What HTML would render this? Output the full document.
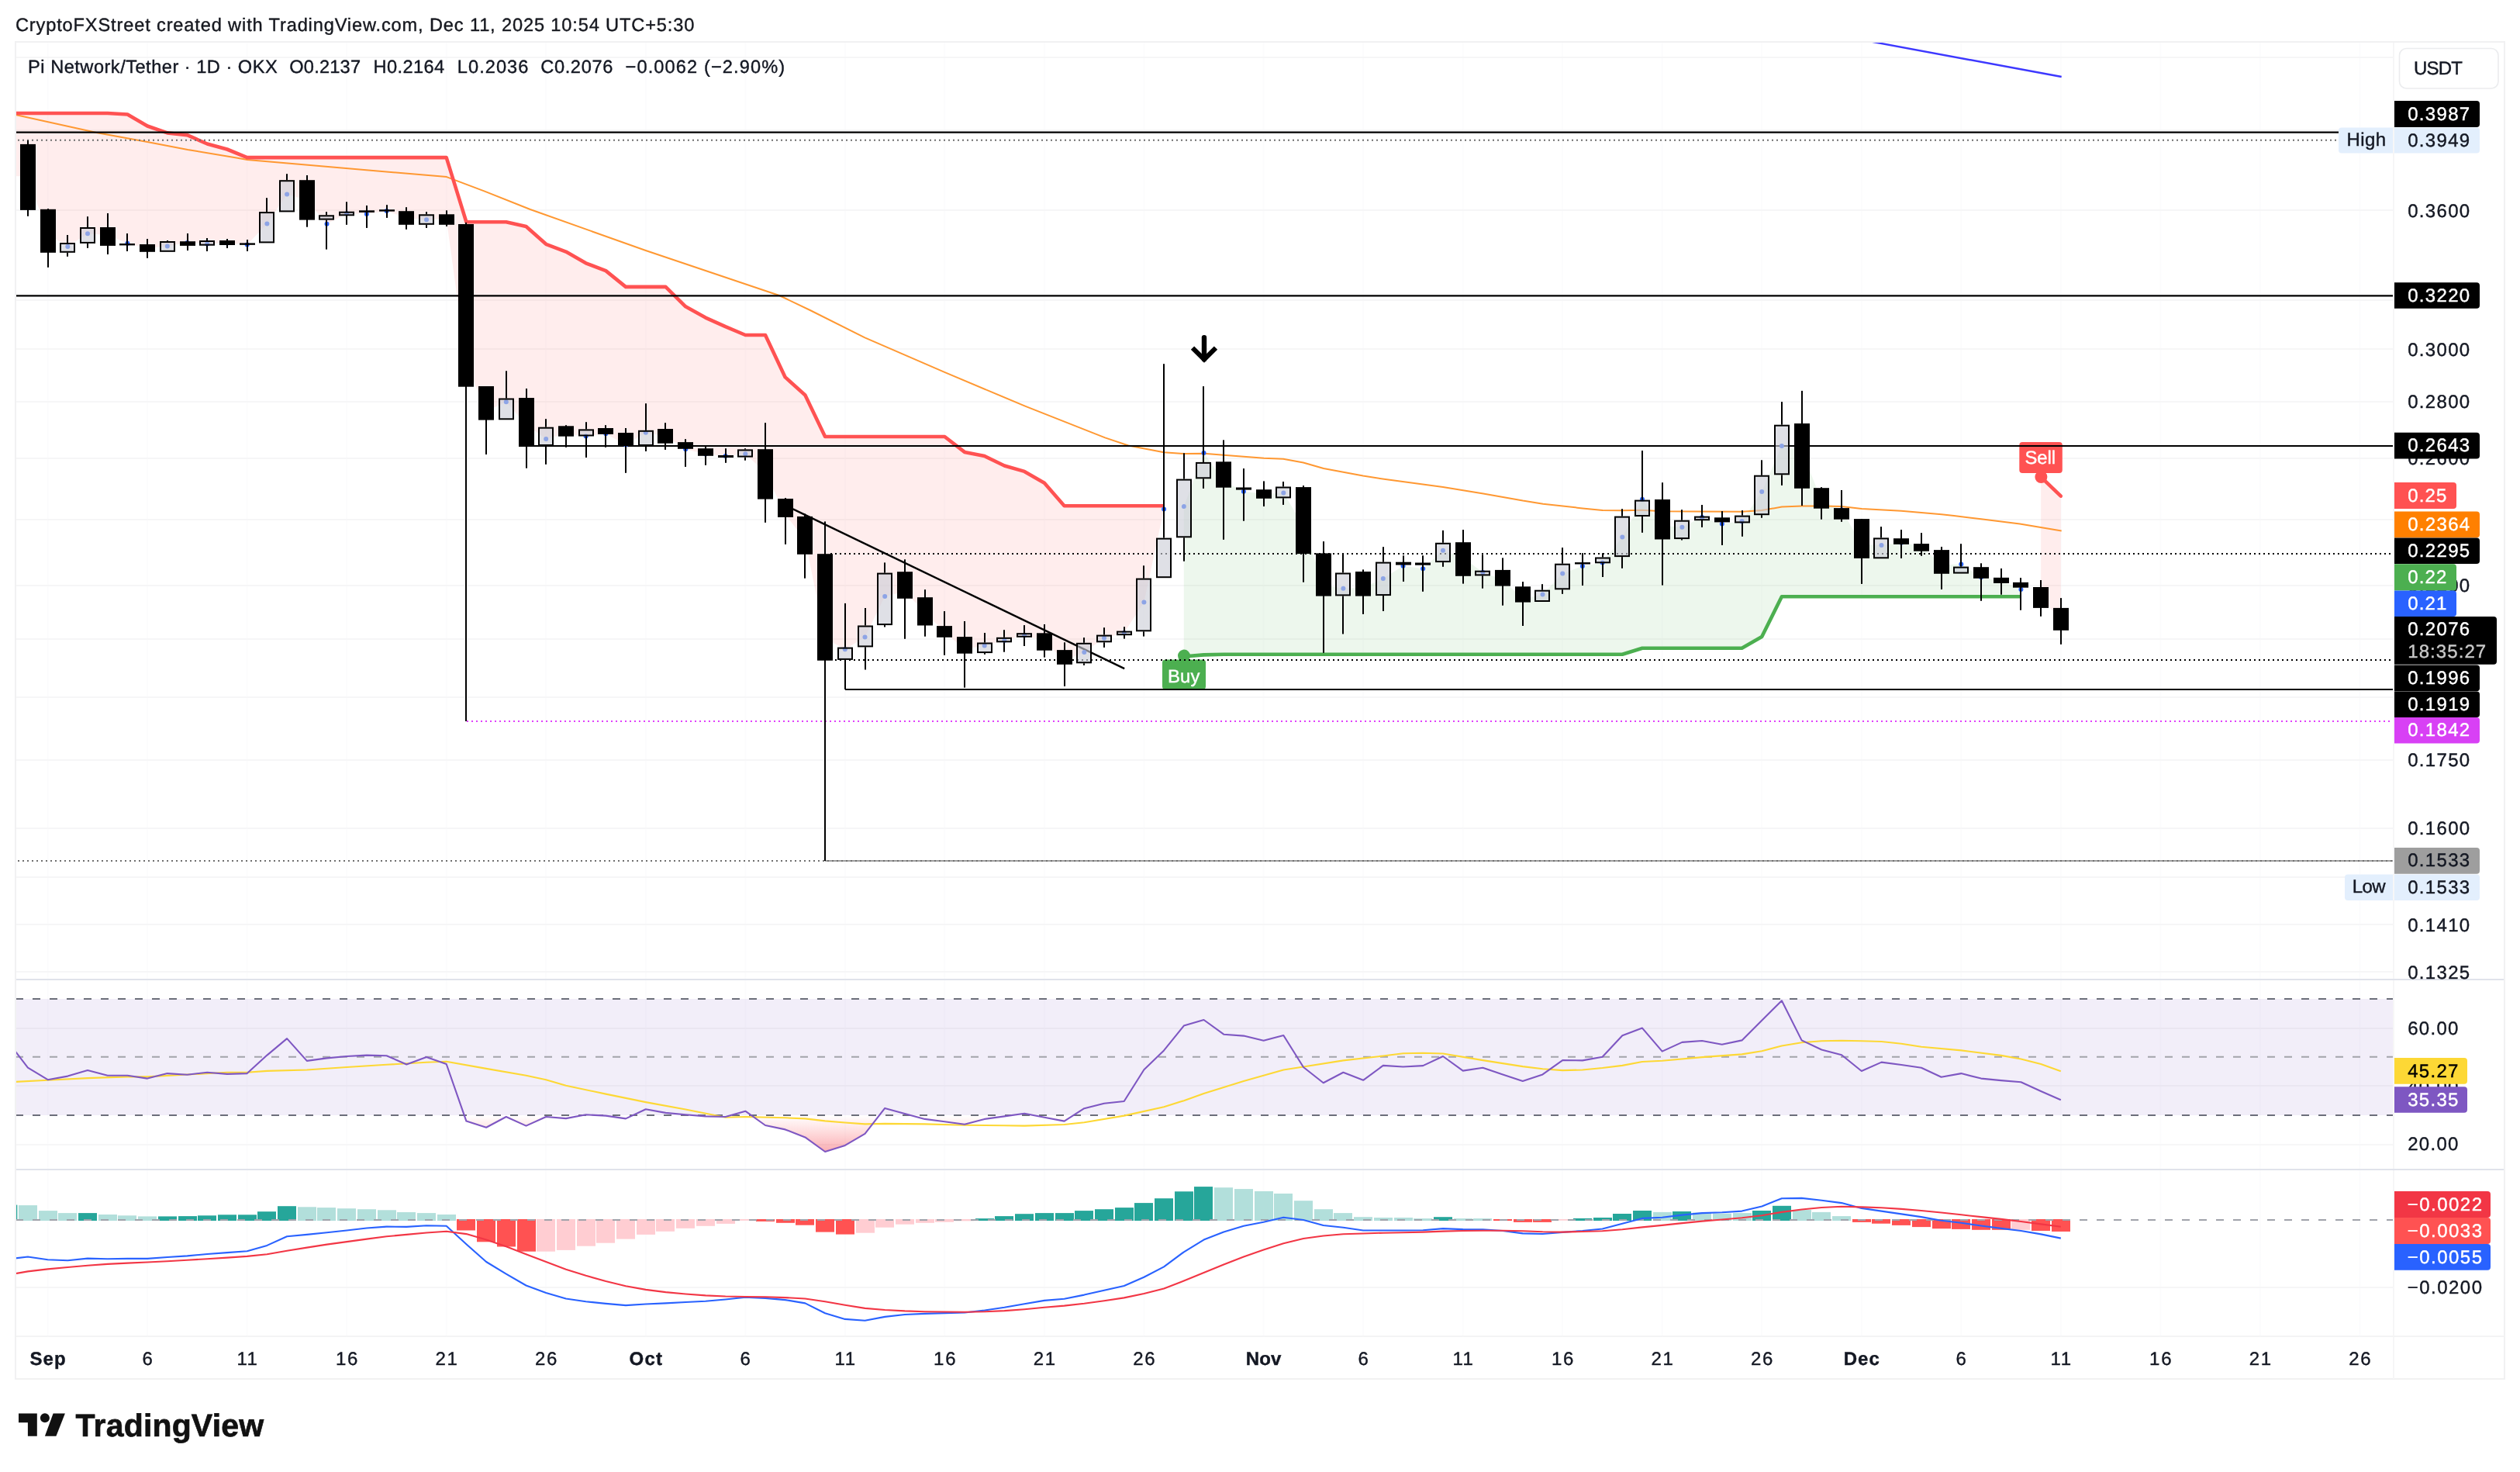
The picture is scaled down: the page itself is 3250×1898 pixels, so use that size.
<!DOCTYPE html>
<html lang="en"><head><meta charset="utf-8"><title>PI/USDT chart</title>
<style>html,body{margin:0;padding:0;background:#fff;}body{width:3250px;height:1898px;overflow:hidden;font-family:"Liberation Sans", sans-serif;}svg text{white-space:pre;}</style></head>
<body>
<svg width="3250" height="1898" viewBox="0 0 3250 1898" font-family='"Liberation Sans", sans-serif' text-rendering="geometricPrecision" style="display:block">
<rect width="3250" height="1898" fill="#fff"/>
<filter id="nf" color-interpolation-filters="sRGB" x="0" y="0" width="100%" height="100%" filterUnits="userSpaceOnUse"><feOffset dx="0" dy="0"/></filter>
<defs>
<clipPath id="cm"><rect x="20" y="55" width="3067" height="1208"/></clipPath>
<clipPath id="cr"><rect x="20" y="1263" width="3067" height="245"/></clipPath>
<clipPath id="cd"><rect x="20" y="1508" width="3067" height="215"/></clipPath>
<linearGradient id="gos" x1="0" y1="1438" x2="0" y2="1486" gradientUnits="userSpaceOnUse"><stop offset="0" stop-color="#ff5252" stop-opacity="0"/><stop offset="1" stop-color="#f23645" stop-opacity="0.42"/></linearGradient>
</defs>
<rect x="60.6" y="54" width="2" height="1669" fill="#fcfcfd"/>
<rect x="189.1" y="54" width="2" height="1669" fill="#fcfcfd"/>
<rect x="317.7" y="54" width="2" height="1669" fill="#fcfcfd"/>
<rect x="446.2" y="54" width="2" height="1669" fill="#fcfcfd"/>
<rect x="574.7" y="54" width="2" height="1669" fill="#fcfcfd"/>
<rect x="703.2" y="54" width="2" height="1669" fill="#fcfcfd"/>
<rect x="831.8" y="54" width="2" height="1669" fill="#fcfcfd"/>
<rect x="960.3" y="54" width="2" height="1669" fill="#fcfcfd"/>
<rect x="1088.8" y="54" width="2" height="1669" fill="#fcfcfd"/>
<rect x="1217.3" y="54" width="2" height="1669" fill="#fcfcfd"/>
<rect x="1345.9" y="54" width="2" height="1669" fill="#fcfcfd"/>
<rect x="1474.4" y="54" width="2" height="1669" fill="#fcfcfd"/>
<rect x="1628.6" y="54" width="2" height="1669" fill="#fcfcfd"/>
<rect x="1757.1" y="54" width="2" height="1669" fill="#fcfcfd"/>
<rect x="1885.7" y="54" width="2" height="1669" fill="#fcfcfd"/>
<rect x="2014.2" y="54" width="2" height="1669" fill="#fcfcfd"/>
<rect x="2142.7" y="54" width="2" height="1669" fill="#fcfcfd"/>
<rect x="2271.2" y="54" width="2" height="1669" fill="#fcfcfd"/>
<rect x="2399.8" y="54" width="2" height="1669" fill="#fcfcfd"/>
<rect x="2528.3" y="54" width="2" height="1669" fill="#fcfcfd"/>
<rect x="2656.8" y="54" width="2" height="1669" fill="#fcfcfd"/>
<rect x="2785.3" y="54" width="2" height="1669" fill="#fcfcfd"/>
<rect x="2913.9" y="54" width="2" height="1669" fill="#fcfcfd"/>
<rect x="3042.4" y="54" width="2" height="1669" fill="#fcfcfd"/>
<rect x="20" y="73" width="3067" height="2" fill="#f6f6f7"/>
<rect x="20" y="167" width="3067" height="2" fill="#f6f6f7"/>
<rect x="20" y="270" width="3067" height="2" fill="#f6f6f7"/>
<rect x="20" y="386" width="3067" height="2" fill="#f6f6f7"/>
<rect x="20" y="449" width="3067" height="2" fill="#f6f6f7"/>
<rect x="20" y="517" width="3067" height="2" fill="#f6f6f7"/>
<rect x="20" y="590" width="3067" height="2" fill="#f6f6f7"/>
<rect x="20" y="669" width="3067" height="2" fill="#f6f6f7"/>
<rect x="20" y="754" width="3067" height="2" fill="#f6f6f7"/>
<rect x="20" y="823" width="3067" height="2" fill="#f6f6f7"/>
<rect x="20" y="898" width="3067" height="2" fill="#f6f6f7"/>
<rect x="20" y="979" width="3067" height="2" fill="#f6f6f7"/>
<rect x="20" y="1067" width="3067" height="2" fill="#f6f6f7"/>
<rect x="20" y="1130" width="3067" height="2" fill="#f6f6f7"/>
<rect x="20" y="1191" width="3067" height="2" fill="#f6f6f7"/>
<rect x="20" y="1252" width="3067" height="2" fill="#f6f6f7"/>
<rect x="20" y="1325" width="3067" height="2" fill="#f6f6f7"/>
<rect x="20" y="1399" width="3067" height="2" fill="#f6f6f7"/>
<rect x="20" y="1475" width="3067" height="2" fill="#f6f6f7"/>
<rect x="20" y="1659" width="3067" height="2" fill="#f6f6f7"/>
<g clip-path="url(#cm)">
<polygon points="20,146 35.9,146 61.6,146 87.3,146 113,146 138.7,146 164.4,147.5 190.1,162.5 215.8,171.4 241.5,174.2 267.2,185.5 292.9,192.5 318.7,203.1 344.4,203.1 370.1,203.1 395.8,203.1 421.5,203.1 447.2,203.1 472.9,203.1 498.6,203.1 524.3,203.1 550,203.1 575.7,203.1 601.4,286.2 627.1,286.2 652.8,286.2 678.5,292 704.2,314.8 729.9,324.6 755.6,339.3 781.3,349.1 807,369.9 832.8,369.9 858.5,369.9 884.2,395.3 909.9,409.6 935.6,421.2 961.3,432 987,432 1012.7,486.4 1038.4,509.5 1064.1,563 1089.8,563 1115.5,563 1141.2,563 1166.9,563 1192.6,563 1218.3,563 1244,582.9 1269.7,588 1295.4,600.5 1321.2,607.9 1346.9,622.8 1372.6,652.2 1398.3,652.2 1424,652.2 1449.7,652.2 1475.4,652.2 1501.1,652.2 1501.1,656.4 1475.4,776.6 1449.7,816.1 1424,822.7 1398.3,840.9 1372.6,851.8 1346.9,826.8 1321.2,819.2 1295.4,825.7 1269.7,832.5 1244,837.3 1218.3,815.2 1192.6,789.1 1166.9,762.7 1141.2,768.9 1115.5,821.6 1089.8,837.3 1064.1,822.9 1038.4,696.6 1012.7,663.2 987,609.1 961.3,585.2 935.6,588 909.9,585.4 884.2,579.2 858.5,562.4 832.8,557.7 807,573.4 781.3,559.2 755.6,562.4 729.9,559.2 704.2,565.9 678.5,547.4 652.8,518.3 627.1,530.2 601.4,468.9 575.7,282.3 550,283.2 524.3,281.2 498.6,271.9 472.9,276 447.2,275.2 421.5,288.7 395.8,258.2 370.1,250.5 344.4,288.4 318.7,315.5 292.9,313.5 267.2,314.4 241.5,313 215.8,317.6 190.1,320.1 164.4,313.7 138.7,303 113,301.3 87.3,318.1 61.6,301.8 35.9,228.1 20,227.1" fill="#ff5252" fill-opacity="0.1"/>
<polygon points="1526.8,653.1 1552.5,583.9 1578.2,620.6 1603.9,633.7 1629.6,636.8 1655.3,635.4 1681,678.3 1706.7,753.9 1732.4,758.7 1758.1,757.7 1783.8,745.9 1809.5,729.8 1835.2,733.2 1861,709.7 1886.7,719 1912.4,737.9 1938.1,747.4 1963.8,772.3 1989.5,766.4 2015.2,739.4 2040.9,730 2066.6,725.4 2092.3,692.6 2118,643.8 2143.7,677.8 2169.4,679.7 2195.1,666.9 2220.8,675.6 2246.5,672.1 2272.2,633.9 2297.9,575 2323.6,581.1 2349.3,645.5 2375.1,657.3 2400.8,702.1 2426.5,703.1 2452.2,699.7 2477.9,703.9 2503.6,728.2 2529.3,727.6 2555,744.3 2580.7,749 2606.4,759.9 2606.4,769.2 2580.7,769.2 2555,769.2 2529.3,769.2 2503.6,769.2 2477.9,769.2 2452.2,769.2 2426.5,769.2 2400.8,769.2 2375.1,769.2 2349.3,769.2 2323.6,769.2 2297.9,769.2 2272.2,821.1 2246.5,835.7 2220.8,835.7 2195.1,835.7 2169.4,835.7 2143.7,835.7 2118,835.7 2092.3,843.8 2066.6,843.8 2040.9,843.8 2015.2,843.8 1989.5,843.8 1963.8,843.8 1938.1,843.8 1912.4,843.8 1886.7,843.8 1861,843.8 1835.2,843.8 1809.5,843.8 1783.8,843.8 1758.1,843.8 1732.4,843.8 1706.7,843.8 1681,843.8 1655.3,843.8 1629.6,843.8 1603.9,843.8 1578.2,843.8 1552.5,844.4 1526.8,846.5" fill="#4caf50" fill-opacity="0.1"/>
<polygon points="2632.1,615 2657.8,639.6 2657.8,799.4 2632.1,770.7" fill="#ff5252" fill-opacity="0.1"/>
<line x1="2410" y1="53" x2="2658.7" y2="99" stroke="#3d38ff" stroke-width="2.4"/>
<polyline points="20,148 124.4,171 190,183 242,193 305,203.6 318.9,206 576,228.1 625,246.6 683.8,270 832.8,323 1005,381 1044.8,400 1115.4,435.3 1218.7,480.2 1322,523.6 1425.2,564.4 1455.3,574.5 1501,583.3 1527.7,585.1 1552.9,584.7 1578,586.7 1630,590.8 1655,591.8 1680.9,596.5 1707,604 1757.9,613.6 1785,617.7 1861,627.9 1913,636.4 1963.9,645.6 1990,649.7 2041,655.4 2066.8,658 2092.1,658.2 2118,657.8 2144,659.2 2185,659.6 2247,659.8 2272,658.1 2298,653.6 2324,652.6 2350,652.6 2375,653 2401,656.1 2452,658.7 2504,663.2 2520,665 2555,669.3 2605,675.4 2658.7,684.6" fill="none" stroke="#ff9832" stroke-width="2" stroke-linejoin="round"/>
<polyline points="20,146 35.9,146 61.6,146 87.3,146 113,146 138.7,146 164.4,147.5 190.1,162.5 215.8,171.4 241.5,174.2 267.2,185.5 292.9,192.5 318.7,203.1 344.4,203.1 370.1,203.1 395.8,203.1 421.5,203.1 447.2,203.1 472.9,203.1 498.6,203.1 524.3,203.1 550,203.1 575.7,203.1 601.4,286.2 627.1,286.2 652.8,286.2 678.5,292 704.2,314.8 729.9,324.6 755.6,339.3 781.3,349.1 807,369.9 832.8,369.9 858.5,369.9 884.2,395.3 909.9,409.6 935.6,421.2 961.3,432 987,432 1012.7,486.4 1038.4,509.5 1064.1,563 1089.8,563 1115.5,563 1141.2,563 1166.9,563 1192.6,563 1218.3,563 1244,582.9 1269.7,588 1295.4,600.5 1321.2,607.9 1346.9,622.8 1372.6,652.2 1398.3,652.2 1424,652.2 1449.7,652.2 1475.4,652.2 1501.1,652.2" fill="none" stroke="#ff5252" stroke-width="4.6" stroke-linejoin="round"/>
<polyline points="1526.8,846.5 1552.5,844.4 1578.2,843.8 1603.9,843.8 1629.6,843.8 1655.3,843.8 1681,843.8 1706.7,843.8 1732.4,843.8 1758.1,843.8 1783.8,843.8 1809.5,843.8 1835.2,843.8 1861,843.8 1886.7,843.8 1912.4,843.8 1938.1,843.8 1963.8,843.8 1989.5,843.8 2015.2,843.8 2040.9,843.8 2066.6,843.8 2092.3,843.8 2118,835.7 2143.7,835.7 2169.4,835.7 2195.1,835.7 2220.8,835.7 2246.5,835.7 2272.2,821.1 2297.9,769.2 2323.6,769.2 2349.3,769.2 2375.1,769.2 2400.8,769.2 2426.5,769.2 2452.2,769.2 2477.9,769.2 2503.6,769.2 2529.3,769.2 2555,769.2 2580.7,769.2 2606.4,769.2" fill="none" stroke="#4caf50" stroke-width="4.6" stroke-linejoin="round"/>
<polyline points="2632.1,615 2657.8,639.6" fill="none" stroke="#ff5252" stroke-width="4.6" stroke-linecap="round"/>
<circle cx="1527" cy="845.6" r="8" fill="#4caf50"/>
<rect x="1499" y="850.5" width="56" height="38.5" rx="4" fill="#4caf50"/>
<circle cx="2632.4" cy="615" r="8" fill="#ff5252"/>
<rect x="2604.3" y="570" width="55.5" height="40" rx="4" fill="#ff5252"/>
<line x1="20" y1="170.6" x2="3016" y2="170.6" stroke="#000" stroke-width="2.4"/>
<line x1="23" y1="180.8" x2="3016" y2="180.8" stroke="#6e6e6e" stroke-width="2" stroke-dasharray="2 4"/>
<line x1="20" y1="381.3" x2="3087" y2="381.3" stroke="#000" stroke-width="2.2"/>
<line x1="669" y1="575" x2="3087" y2="575" stroke="#000" stroke-width="2.2"/>
<line x1="1071" y1="714" x2="3087" y2="714" stroke="#000" stroke-width="2" stroke-dasharray="2 4"/>
<line x1="1077" y1="851" x2="3087" y2="851" stroke="#000" stroke-width="2" stroke-dasharray="2 4"/>
<line x1="1090" y1="889" x2="3087" y2="889" stroke="#000" stroke-width="2.2"/>
<line x1="602" y1="930" x2="3087" y2="930" stroke="#e040fb" stroke-width="2" stroke-dasharray="2 4"/>
<line x1="1064" y1="1110" x2="3087" y2="1110" stroke="#9e9e9e" stroke-width="2.2"/>
<line x1="23" y1="1110" x2="3087" y2="1110" stroke="#6e6e6e" stroke-width="2" stroke-dasharray="2 4"/>
<line x1="1022.7" y1="656.3" x2="1450.2" y2="862.2" stroke="#000" stroke-width="2.4"/>
<circle cx="35.9" cy="228.1" r="3" fill="#2962ff"/>
<circle cx="61.6" cy="301.8" r="3" fill="#2962ff"/>
<circle cx="87.3" cy="318.1" r="3" fill="#2962ff"/>
<circle cx="113" cy="301.3" r="3" fill="#2962ff"/>
<circle cx="138.7" cy="303" r="3" fill="#2962ff"/>
<circle cx="164.4" cy="313.7" r="3" fill="#2962ff"/>
<circle cx="190.1" cy="320.1" r="3" fill="#2962ff"/>
<circle cx="215.8" cy="317.6" r="3" fill="#2962ff"/>
<circle cx="241.5" cy="313" r="3" fill="#2962ff"/>
<circle cx="267.2" cy="314.4" r="3" fill="#2962ff"/>
<circle cx="292.9" cy="313.5" r="3" fill="#2962ff"/>
<circle cx="318.7" cy="315.5" r="3" fill="#2962ff"/>
<circle cx="344.4" cy="288.4" r="3" fill="#2962ff"/>
<circle cx="370.1" cy="250.5" r="3" fill="#2962ff"/>
<circle cx="395.8" cy="258.2" r="3" fill="#2962ff"/>
<circle cx="421.5" cy="288.7" r="3" fill="#2962ff"/>
<circle cx="447.2" cy="275.2" r="3" fill="#2962ff"/>
<circle cx="472.9" cy="276" r="3" fill="#2962ff"/>
<circle cx="498.6" cy="271.9" r="3" fill="#2962ff"/>
<circle cx="524.3" cy="281.2" r="3" fill="#2962ff"/>
<circle cx="550" cy="283.2" r="3" fill="#2962ff"/>
<circle cx="575.7" cy="282.3" r="3" fill="#2962ff"/>
<circle cx="601.4" cy="468.9" r="3" fill="#2962ff"/>
<circle cx="627.1" cy="530.2" r="3" fill="#2962ff"/>
<circle cx="652.8" cy="518.3" r="3" fill="#2962ff"/>
<circle cx="678.5" cy="547.4" r="3" fill="#2962ff"/>
<circle cx="704.2" cy="565.9" r="3" fill="#2962ff"/>
<circle cx="729.9" cy="559.2" r="3" fill="#2962ff"/>
<circle cx="755.6" cy="562.4" r="3" fill="#2962ff"/>
<circle cx="781.3" cy="559.2" r="3" fill="#2962ff"/>
<circle cx="807" cy="573.4" r="3" fill="#2962ff"/>
<circle cx="832.8" cy="557.7" r="3" fill="#2962ff"/>
<circle cx="858.5" cy="562.4" r="3" fill="#2962ff"/>
<circle cx="884.2" cy="579.2" r="3" fill="#2962ff"/>
<circle cx="909.9" cy="585.4" r="3" fill="#2962ff"/>
<circle cx="935.6" cy="588" r="3" fill="#2962ff"/>
<circle cx="961.3" cy="585.2" r="3" fill="#2962ff"/>
<circle cx="987" cy="609.1" r="3" fill="#2962ff"/>
<circle cx="1012.7" cy="663.2" r="3" fill="#2962ff"/>
<circle cx="1038.4" cy="696.6" r="3" fill="#2962ff"/>
<circle cx="1064.1" cy="822.9" r="3" fill="#2962ff"/>
<circle cx="1089.8" cy="837.3" r="3" fill="#2962ff"/>
<circle cx="1115.5" cy="821.6" r="3" fill="#2962ff"/>
<circle cx="1141.2" cy="768.9" r="3" fill="#2962ff"/>
<circle cx="1166.9" cy="762.7" r="3" fill="#2962ff"/>
<circle cx="1192.6" cy="789.1" r="3" fill="#2962ff"/>
<circle cx="1218.3" cy="815.2" r="3" fill="#2962ff"/>
<circle cx="1244" cy="837.3" r="3" fill="#2962ff"/>
<circle cx="1269.7" cy="832.5" r="3" fill="#2962ff"/>
<circle cx="1295.4" cy="825.7" r="3" fill="#2962ff"/>
<circle cx="1321.2" cy="819.2" r="3" fill="#2962ff"/>
<circle cx="1346.9" cy="826.8" r="3" fill="#2962ff"/>
<circle cx="1372.6" cy="851.8" r="3" fill="#2962ff"/>
<circle cx="1398.3" cy="840.9" r="3" fill="#2962ff"/>
<circle cx="1424" cy="822.7" r="3" fill="#2962ff"/>
<circle cx="1449.7" cy="816.1" r="3" fill="#2962ff"/>
<circle cx="1475.4" cy="776.6" r="3" fill="#2962ff"/>
<circle cx="1501.1" cy="656.4" r="3" fill="#2962ff"/>
<circle cx="1526.8" cy="653.1" r="3" fill="#2962ff"/>
<circle cx="1552.5" cy="583.9" r="3" fill="#2962ff"/>
<circle cx="1578.2" cy="620.6" r="3" fill="#2962ff"/>
<circle cx="1603.9" cy="633.7" r="3" fill="#2962ff"/>
<circle cx="1629.6" cy="636.8" r="3" fill="#2962ff"/>
<circle cx="1655.3" cy="635.4" r="3" fill="#2962ff"/>
<circle cx="1681" cy="678.3" r="3" fill="#2962ff"/>
<circle cx="1706.7" cy="753.9" r="3" fill="#2962ff"/>
<circle cx="1732.4" cy="758.7" r="3" fill="#2962ff"/>
<circle cx="1758.1" cy="757.7" r="3" fill="#2962ff"/>
<circle cx="1783.8" cy="745.9" r="3" fill="#2962ff"/>
<circle cx="1809.5" cy="729.8" r="3" fill="#2962ff"/>
<circle cx="1835.2" cy="733.2" r="3" fill="#2962ff"/>
<circle cx="1861" cy="709.7" r="3" fill="#2962ff"/>
<circle cx="1886.7" cy="719" r="3" fill="#2962ff"/>
<circle cx="1912.4" cy="737.9" r="3" fill="#2962ff"/>
<circle cx="1938.1" cy="747.4" r="3" fill="#2962ff"/>
<circle cx="1963.8" cy="772.3" r="3" fill="#2962ff"/>
<circle cx="1989.5" cy="766.4" r="3" fill="#2962ff"/>
<circle cx="2015.2" cy="739.4" r="3" fill="#2962ff"/>
<circle cx="2040.9" cy="730" r="3" fill="#2962ff"/>
<circle cx="2066.6" cy="725.4" r="3" fill="#2962ff"/>
<circle cx="2092.3" cy="692.6" r="3" fill="#2962ff"/>
<circle cx="2118" cy="643.8" r="3" fill="#2962ff"/>
<circle cx="2143.7" cy="677.8" r="3" fill="#2962ff"/>
<circle cx="2169.4" cy="679.7" r="3" fill="#2962ff"/>
<circle cx="2195.1" cy="666.9" r="3" fill="#2962ff"/>
<circle cx="2220.8" cy="675.6" r="3" fill="#2962ff"/>
<circle cx="2246.5" cy="672.1" r="3" fill="#2962ff"/>
<circle cx="2272.2" cy="633.9" r="3" fill="#2962ff"/>
<circle cx="2297.9" cy="575" r="3" fill="#2962ff"/>
<circle cx="2323.6" cy="581.1" r="3" fill="#2962ff"/>
<circle cx="2349.3" cy="645.5" r="3" fill="#2962ff"/>
<circle cx="2375.1" cy="657.3" r="3" fill="#2962ff"/>
<circle cx="2400.8" cy="702.1" r="3" fill="#2962ff"/>
<circle cx="2426.5" cy="703.1" r="3" fill="#2962ff"/>
<circle cx="2452.2" cy="699.7" r="3" fill="#2962ff"/>
<circle cx="2477.9" cy="703.9" r="3" fill="#2962ff"/>
<circle cx="2503.6" cy="728.2" r="3" fill="#2962ff"/>
<circle cx="2529.3" cy="727.6" r="3" fill="#2962ff"/>
<circle cx="2555" cy="744.3" r="3" fill="#2962ff"/>
<circle cx="2580.7" cy="749" r="3" fill="#2962ff"/>
<circle cx="2606.4" cy="759.9" r="3" fill="#2962ff"/>
<circle cx="2632.1" cy="770.7" r="3" fill="#2962ff"/>
<circle cx="2657.8" cy="799.4" r="3" fill="#2962ff"/>
<rect x="35" y="181" width="2" height="97.8" fill="#000"/>
<rect x="26" y="185.9" width="20" height="85" fill="#000"/>
<rect x="61" y="269" width="2" height="75.8" fill="#000"/>
<rect x="52" y="269.8" width="20" height="56" fill="#000"/>
<rect x="86" y="303" width="2" height="10" fill="#000"/>
<rect x="86" y="325.8" width="2" height="5" fill="#000"/>
<rect x="78" y="314" width="18" height="10.8" fill="#cbcdd7" fill-opacity="0.62" stroke="#000" stroke-width="2"/>
<rect x="112" y="279.2" width="2" height="13.8" fill="#000"/>
<rect x="112" y="313.9" width="2" height="5.9" fill="#000"/>
<rect x="104" y="294" width="18" height="18.9" fill="#cbcdd7" fill-opacity="0.62" stroke="#000" stroke-width="2"/>
<rect x="138" y="275" width="2" height="53" fill="#000"/>
<rect x="129" y="293" width="20" height="23.9" fill="#000"/>
<rect x="163" y="301" width="2" height="23" fill="#000"/>
<rect x="154" y="314" width="20" height="2.4" fill="#000"/>
<rect x="189" y="308" width="2" height="24.8" fill="#000"/>
<rect x="180" y="315" width="20" height="9.8" fill="#000"/>
<rect x="215" y="310" width="2" height="1" fill="#000"/>
<rect x="207" y="312" width="18" height="11.8" fill="#cbcdd7" fill-opacity="0.62" stroke="#000" stroke-width="2"/>
<rect x="241" y="301" width="2" height="22" fill="#000"/>
<rect x="232" y="311.2" width="20" height="5.7" fill="#000"/>
<rect x="266" y="307" width="2" height="3" fill="#000"/>
<rect x="266" y="316.7" width="2" height="7.3" fill="#000"/>
<rect x="258" y="311" width="18" height="4.7" fill="#cbcdd7" fill-opacity="0.62" stroke="#000" stroke-width="2"/>
<rect x="292" y="308" width="2" height="12" fill="#000"/>
<rect x="283" y="310" width="20" height="6" fill="#000"/>
<rect x="318" y="309" width="2" height="14.9" fill="#000"/>
<rect x="309" y="313.4" width="20" height="2.4" fill="#000"/>
<rect x="343" y="255.2" width="2" height="17.9" fill="#000"/>
<rect x="335" y="274.1" width="18" height="38.3" fill="#cbcdd7" fill-opacity="0.62" stroke="#000" stroke-width="2"/>
<rect x="369" y="224.2" width="2" height="8" fill="#000"/>
<rect x="361" y="233.2" width="18" height="39.2" fill="#cbcdd7" fill-opacity="0.62" stroke="#000" stroke-width="2"/>
<rect x="395" y="226" width="2" height="66.7" fill="#000"/>
<rect x="386" y="232.2" width="20" height="51.4" fill="#000"/>
<rect x="420" y="273.1" width="2" height="4.2" fill="#000"/>
<rect x="420" y="283.6" width="2" height="38" fill="#000"/>
<rect x="412" y="278.3" width="18" height="4.3" fill="#cbcdd7" fill-opacity="0.62" stroke="#000" stroke-width="2"/>
<rect x="446" y="260.3" width="2" height="12.8" fill="#000"/>
<rect x="446" y="277.8" width="2" height="12" fill="#000"/>
<rect x="438" y="273.7" width="18" height="3.6" fill="#cbcdd7" fill-opacity="0.62" stroke="#000" stroke-width="2"/>
<rect x="472" y="265" width="2" height="28.9" fill="#000"/>
<rect x="463" y="271.3" width="20" height="2.6" fill="#000"/>
<rect x="498" y="264.2" width="2" height="16.7" fill="#000"/>
<rect x="489" y="270.2" width="20" height="2.4" fill="#000"/>
<rect x="523" y="267.2" width="2" height="28.6" fill="#000"/>
<rect x="514" y="272.2" width="20" height="17.6" fill="#000"/>
<rect x="549" y="273.1" width="2" height="3.2" fill="#000"/>
<rect x="549" y="289.8" width="2" height="4.1" fill="#000"/>
<rect x="541" y="277.3" width="18" height="11.5" fill="#cbcdd7" fill-opacity="0.62" stroke="#000" stroke-width="2"/>
<rect x="575" y="271.3" width="2" height="20.6" fill="#000"/>
<rect x="566" y="276.3" width="20" height="13.5" fill="#000"/>
<rect x="600" y="286.9" width="2" height="643.1" fill="#000"/>
<rect x="591" y="289" width="20" height="209.7" fill="#000"/>
<rect x="626" y="498" width="2" height="88" fill="#000"/>
<rect x="617" y="498" width="20" height="43.6" fill="#000"/>
<rect x="652" y="478.3" width="2" height="35.2" fill="#000"/>
<rect x="644" y="514.5" width="18" height="25.8" fill="#cbcdd7" fill-opacity="0.62" stroke="#000" stroke-width="2"/>
<rect x="678" y="501" width="2" height="102.7" fill="#000"/>
<rect x="669" y="513" width="20" height="62.4" fill="#000"/>
<rect x="703" y="540.2" width="2" height="10.5" fill="#000"/>
<rect x="703" y="575" width="2" height="23.8" fill="#000"/>
<rect x="695" y="551.7" width="18" height="22.3" fill="#cbcdd7" fill-opacity="0.62" stroke="#000" stroke-width="2"/>
<rect x="729" y="548.2" width="2" height="28.6" fill="#000"/>
<rect x="720" y="549.3" width="20" height="13.4" fill="#000"/>
<rect x="755" y="544.2" width="2" height="9.2" fill="#000"/>
<rect x="755" y="562.5" width="2" height="27.5" fill="#000"/>
<rect x="747" y="554.4" width="18" height="7.1" fill="#cbcdd7" fill-opacity="0.62" stroke="#000" stroke-width="2"/>
<rect x="780" y="548.2" width="2" height="28.6" fill="#000"/>
<rect x="771" y="552" width="20" height="7.9" fill="#000"/>
<rect x="806" y="552" width="2" height="57.8" fill="#000"/>
<rect x="797" y="558" width="20" height="17" fill="#000"/>
<rect x="832" y="520.2" width="2" height="34.6" fill="#000"/>
<rect x="832" y="575" width="2" height="6.9" fill="#000"/>
<rect x="824" y="555.8" width="18" height="18.2" fill="#cbcdd7" fill-opacity="0.62" stroke="#000" stroke-width="2"/>
<rect x="857" y="545.2" width="2" height="34.7" fill="#000"/>
<rect x="848" y="553" width="20" height="18.7" fill="#000"/>
<rect x="883" y="566.2" width="2" height="35.7" fill="#000"/>
<rect x="874" y="570.1" width="20" height="8.7" fill="#000"/>
<rect x="909" y="575.8" width="2" height="24" fill="#000"/>
<rect x="900" y="578.2" width="20" height="9.6" fill="#000"/>
<rect x="935" y="578.2" width="2" height="18.6" fill="#000"/>
<rect x="926" y="587" width="20" height="3" fill="#000"/>
<rect x="960" y="578.2" width="2" height="1.2" fill="#000"/>
<rect x="960" y="589.6" width="2" height="4.1" fill="#000"/>
<rect x="952" y="580.4" width="18" height="8.2" fill="#cbcdd7" fill-opacity="0.62" stroke="#000" stroke-width="2"/>
<rect x="986" y="545.2" width="2" height="128.6" fill="#000"/>
<rect x="977" y="579.2" width="20" height="64.4" fill="#000"/>
<rect x="1012" y="642" width="2" height="59.9" fill="#000"/>
<rect x="1003" y="643" width="20" height="23.9" fill="#000"/>
<rect x="1037" y="662.4" width="2" height="83.3" fill="#000"/>
<rect x="1028" y="665.9" width="20" height="48.9" fill="#000"/>
<rect x="1063" y="672.4" width="2" height="437.6" fill="#000"/>
<rect x="1054" y="714.2" width="20" height="137.5" fill="#000"/>
<rect x="1089" y="777.9" width="2" height="56.7" fill="#000"/>
<rect x="1089" y="850.9" width="2" height="38.1" fill="#000"/>
<rect x="1081" y="835.6" width="18" height="14.3" fill="#cbcdd7" fill-opacity="0.62" stroke="#000" stroke-width="2"/>
<rect x="1115" y="784" width="2" height="22.5" fill="#000"/>
<rect x="1115" y="834.4" width="2" height="29.1" fill="#000"/>
<rect x="1107" y="807.5" width="18" height="25.9" fill="#cbcdd7" fill-opacity="0.62" stroke="#000" stroke-width="2"/>
<rect x="1140" y="725.4" width="2" height="13.2" fill="#000"/>
<rect x="1140" y="806.1" width="2" height="2.4" fill="#000"/>
<rect x="1132" y="739.6" width="18" height="65.5" fill="#cbcdd7" fill-opacity="0.62" stroke="#000" stroke-width="2"/>
<rect x="1166" y="721.3" width="2" height="102.5" fill="#000"/>
<rect x="1157" y="737.2" width="20" height="34.6" fill="#000"/>
<rect x="1192" y="760.2" width="2" height="60.5" fill="#000"/>
<rect x="1183" y="770.2" width="20" height="36.3" fill="#000"/>
<rect x="1217" y="788.1" width="2" height="56.7" fill="#000"/>
<rect x="1208" y="807.1" width="20" height="14.7" fill="#000"/>
<rect x="1243" y="801" width="2" height="85.6" fill="#000"/>
<rect x="1234" y="821.1" width="20" height="21.6" fill="#000"/>
<rect x="1269" y="816" width="2" height="12.5" fill="#000"/>
<rect x="1269" y="842.1" width="2" height="1.7" fill="#000"/>
<rect x="1261" y="829.5" width="18" height="11.6" fill="#cbcdd7" fill-opacity="0.62" stroke="#000" stroke-width="2"/>
<rect x="1294" y="812.2" width="2" height="9.6" fill="#000"/>
<rect x="1294" y="828.3" width="2" height="12.4" fill="#000"/>
<rect x="1286" y="822.8" width="18" height="4.5" fill="#cbcdd7" fill-opacity="0.62" stroke="#000" stroke-width="2"/>
<rect x="1320" y="806.1" width="2" height="10.6" fill="#000"/>
<rect x="1320" y="821.3" width="2" height="11.7" fill="#000"/>
<rect x="1312" y="817.2" width="18" height="3.6" fill="#cbcdd7" fill-opacity="0.62" stroke="#000" stroke-width="2"/>
<rect x="1346" y="805" width="2" height="42.6" fill="#000"/>
<rect x="1337" y="816.3" width="20" height="22.4" fill="#000"/>
<rect x="1372" y="828.3" width="2" height="56.6" fill="#000"/>
<rect x="1363" y="838.1" width="20" height="18.7" fill="#000"/>
<rect x="1397" y="822.1" width="2" height="6.7" fill="#000"/>
<rect x="1397" y="855.3" width="2" height="2.5" fill="#000"/>
<rect x="1389" y="829.8" width="18" height="24.5" fill="#cbcdd7" fill-opacity="0.62" stroke="#000" stroke-width="2"/>
<rect x="1423" y="809.2" width="2" height="9.4" fill="#000"/>
<rect x="1423" y="828.3" width="2" height="6.6" fill="#000"/>
<rect x="1415" y="819.6" width="18" height="7.7" fill="#cbcdd7" fill-opacity="0.62" stroke="#000" stroke-width="2"/>
<rect x="1449" y="808.2" width="2" height="6.3" fill="#000"/>
<rect x="1449" y="818.3" width="2" height="5.3" fill="#000"/>
<rect x="1441" y="814.6" width="18" height="3.6" fill="#cbcdd7" fill-opacity="0.62" stroke="#000" stroke-width="2"/>
<rect x="1474" y="729.3" width="2" height="16.3" fill="#000"/>
<rect x="1474" y="814.3" width="2" height="6.3" fill="#000"/>
<rect x="1466" y="746.6" width="18" height="66.7" fill="#cbcdd7" fill-opacity="0.62" stroke="#000" stroke-width="2"/>
<rect x="1500" y="469.2" width="2" height="224.4" fill="#000"/>
<rect x="1492" y="694.6" width="18" height="49.6" fill="#cbcdd7" fill-opacity="0.62" stroke="#000" stroke-width="2"/>
<rect x="1526" y="584.3" width="2" height="33.3" fill="#000"/>
<rect x="1526" y="693.3" width="2" height="30.4" fill="#000"/>
<rect x="1518" y="618.6" width="18" height="73.7" fill="#cbcdd7" fill-opacity="0.62" stroke="#000" stroke-width="2"/>
<rect x="1551" y="498.1" width="2" height="97.8" fill="#000"/>
<rect x="1551" y="617.3" width="2" height="12.6" fill="#000"/>
<rect x="1543" y="596.9" width="18" height="19.4" fill="#cbcdd7" fill-opacity="0.62" stroke="#000" stroke-width="2"/>
<rect x="1577" y="567.4" width="2" height="128.4" fill="#000"/>
<rect x="1568" y="595.3" width="20" height="33.4" fill="#000"/>
<rect x="1603" y="604.1" width="2" height="67.6" fill="#000"/>
<rect x="1594" y="628.5" width="20" height="3.1" fill="#000"/>
<rect x="1629" y="620.4" width="2" height="32.6" fill="#000"/>
<rect x="1620" y="631.2" width="20" height="11.6" fill="#000"/>
<rect x="1654" y="621" width="2" height="6.5" fill="#000"/>
<rect x="1654" y="642.4" width="2" height="8.5" fill="#000"/>
<rect x="1646" y="628.5" width="18" height="12.9" fill="#cbcdd7" fill-opacity="0.62" stroke="#000" stroke-width="2"/>
<rect x="1680" y="626.1" width="2" height="124.6" fill="#000"/>
<rect x="1671" y="628.1" width="20" height="86" fill="#000"/>
<rect x="1706" y="698.1" width="2" height="143.7" fill="#000"/>
<rect x="1697" y="713.4" width="20" height="55.2" fill="#000"/>
<rect x="1731" y="713.4" width="2" height="25.1" fill="#000"/>
<rect x="1731" y="768.4" width="2" height="49.1" fill="#000"/>
<rect x="1723" y="739.5" width="18" height="27.9" fill="#cbcdd7" fill-opacity="0.62" stroke="#000" stroke-width="2"/>
<rect x="1757" y="734.4" width="2" height="57.5" fill="#000"/>
<rect x="1748" y="737" width="20" height="31.6" fill="#000"/>
<rect x="1783" y="705.2" width="2" height="19.4" fill="#000"/>
<rect x="1783" y="768.1" width="2" height="19.9" fill="#000"/>
<rect x="1775" y="725.6" width="18" height="41.5" fill="#cbcdd7" fill-opacity="0.62" stroke="#000" stroke-width="2"/>
<rect x="1809" y="716.3" width="2" height="33.6" fill="#000"/>
<rect x="1800" y="724.7" width="20" height="3.8" fill="#000"/>
<rect x="1834" y="716.3" width="2" height="46.5" fill="#000"/>
<rect x="1825" y="725.5" width="20" height="3.2" fill="#000"/>
<rect x="1860" y="683.9" width="2" height="15.9" fill="#000"/>
<rect x="1860" y="725.1" width="2" height="5.7" fill="#000"/>
<rect x="1852" y="700.8" width="18" height="23.3" fill="#cbcdd7" fill-opacity="0.62" stroke="#000" stroke-width="2"/>
<rect x="1886" y="683.1" width="2" height="69.5" fill="#000"/>
<rect x="1877" y="699.2" width="20" height="43.6" fill="#000"/>
<rect x="1911" y="715.3" width="2" height="20.4" fill="#000"/>
<rect x="1911" y="742.4" width="2" height="16.3" fill="#000"/>
<rect x="1903" y="736.7" width="18" height="4.7" fill="#cbcdd7" fill-opacity="0.62" stroke="#000" stroke-width="2"/>
<rect x="1937" y="719.4" width="2" height="61.3" fill="#000"/>
<rect x="1928" y="734.9" width="20" height="20.7" fill="#000"/>
<rect x="1963" y="750.1" width="2" height="56.9" fill="#000"/>
<rect x="1954" y="756.3" width="20" height="20.3" fill="#000"/>
<rect x="1988" y="753.2" width="2" height="7.5" fill="#000"/>
<rect x="1980" y="761.7" width="18" height="13.3" fill="#cbcdd7" fill-opacity="0.62" stroke="#000" stroke-width="2"/>
<rect x="2014" y="706.1" width="2" height="20.6" fill="#000"/>
<rect x="2014" y="760.3" width="2" height="5.5" fill="#000"/>
<rect x="2006" y="727.7" width="18" height="31.6" fill="#cbcdd7" fill-opacity="0.62" stroke="#000" stroke-width="2"/>
<rect x="2040" y="713.2" width="2" height="41.8" fill="#000"/>
<rect x="2031" y="725.1" width="20" height="2.4" fill="#000"/>
<rect x="2066" y="713.2" width="2" height="5.3" fill="#000"/>
<rect x="2066" y="726.3" width="2" height="17.7" fill="#000"/>
<rect x="2058" y="719.5" width="18" height="5.8" fill="#cbcdd7" fill-opacity="0.62" stroke="#000" stroke-width="2"/>
<rect x="2091" y="656.2" width="2" height="9.4" fill="#000"/>
<rect x="2091" y="718.1" width="2" height="14.7" fill="#000"/>
<rect x="2083" y="666.6" width="18" height="50.5" fill="#cbcdd7" fill-opacity="0.62" stroke="#000" stroke-width="2"/>
<rect x="2117" y="581" width="2" height="63.6" fill="#000"/>
<rect x="2117" y="666" width="2" height="20.8" fill="#000"/>
<rect x="2109" y="645.6" width="18" height="19.4" fill="#cbcdd7" fill-opacity="0.62" stroke="#000" stroke-width="2"/>
<rect x="2143" y="622.2" width="2" height="132.4" fill="#000"/>
<rect x="2134" y="644" width="20" height="51.5" fill="#000"/>
<rect x="2168" y="657.2" width="2" height="13.5" fill="#000"/>
<rect x="2168" y="695.1" width="2" height="1.4" fill="#000"/>
<rect x="2160" y="671.7" width="18" height="22.4" fill="#cbcdd7" fill-opacity="0.62" stroke="#000" stroke-width="2"/>
<rect x="2194" y="651" width="2" height="15.6" fill="#000"/>
<rect x="2194" y="670.2" width="2" height="9.7" fill="#000"/>
<rect x="2186" y="666.6" width="18" height="3.6" fill="#cbcdd7" fill-opacity="0.62" stroke="#000" stroke-width="2"/>
<rect x="2220" y="659.1" width="2" height="43.9" fill="#000"/>
<rect x="2211" y="667.3" width="20" height="6.1" fill="#000"/>
<rect x="2246" y="658.1" width="2" height="6.5" fill="#000"/>
<rect x="2246" y="674.4" width="2" height="17.4" fill="#000"/>
<rect x="2238" y="665.6" width="18" height="7.8" fill="#cbcdd7" fill-opacity="0.62" stroke="#000" stroke-width="2"/>
<rect x="2271" y="593.3" width="2" height="19.4" fill="#000"/>
<rect x="2271" y="664.2" width="2" height="3.5" fill="#000"/>
<rect x="2263" y="613.7" width="18" height="49.5" fill="#cbcdd7" fill-opacity="0.62" stroke="#000" stroke-width="2"/>
<rect x="2297" y="518.1" width="2" height="29.6" fill="#000"/>
<rect x="2297" y="612.3" width="2" height="13.6" fill="#000"/>
<rect x="2289" y="548.7" width="18" height="62.6" fill="#cbcdd7" fill-opacity="0.62" stroke="#000" stroke-width="2"/>
<rect x="2323" y="503.9" width="2" height="148.1" fill="#000"/>
<rect x="2314" y="546" width="20" height="83.8" fill="#000"/>
<rect x="2348" y="628.2" width="2" height="41.5" fill="#000"/>
<rect x="2339" y="629.2" width="20" height="26.5" fill="#000"/>
<rect x="2374" y="632" width="2" height="40.8" fill="#000"/>
<rect x="2365" y="655.1" width="20" height="14.6" fill="#000"/>
<rect x="2400" y="669.1" width="2" height="83.8" fill="#000"/>
<rect x="2391" y="669.1" width="20" height="50.8" fill="#000"/>
<rect x="2425" y="679.1" width="2" height="14.3" fill="#000"/>
<rect x="2417" y="694.4" width="18" height="24.9" fill="#cbcdd7" fill-opacity="0.62" stroke="#000" stroke-width="2"/>
<rect x="2451" y="683" width="2" height="36.9" fill="#000"/>
<rect x="2442" y="694.2" width="20" height="7.7" fill="#000"/>
<rect x="2477" y="687.1" width="2" height="29.7" fill="#000"/>
<rect x="2468" y="701.1" width="20" height="9.6" fill="#000"/>
<rect x="2503" y="705" width="2" height="55" fill="#000"/>
<rect x="2494" y="709.1" width="20" height="30.7" fill="#000"/>
<rect x="2528" y="701.2" width="2" height="29.4" fill="#000"/>
<rect x="2520" y="731.6" width="18" height="7" fill="#cbcdd7" fill-opacity="0.62" stroke="#000" stroke-width="2"/>
<rect x="2554" y="726.3" width="2" height="48.5" fill="#000"/>
<rect x="2545" y="731.2" width="20" height="14.6" fill="#000"/>
<rect x="2580" y="733" width="2" height="33.7" fill="#000"/>
<rect x="2571" y="744.8" width="20" height="7.2" fill="#000"/>
<rect x="2605" y="745" width="2" height="41.7" fill="#000"/>
<rect x="2596" y="750.9" width="20" height="6.8" fill="#000"/>
<rect x="2631" y="748" width="2" height="46.8" fill="#000"/>
<rect x="2622" y="757" width="20" height="26.9" fill="#000"/>
<rect x="2657" y="771.1" width="2" height="59.8" fill="#000"/>
<rect x="2648" y="783.9" width="20" height="28.9" fill="#000"/>
<path d="M1553 435.2V463.2" stroke="#000" stroke-width="6.4" stroke-linecap="round" fill="none"/>
<path d="M1538 448.6L1553 463.4L1568 448.6" stroke="#000" stroke-width="6.2" stroke-linejoin="miter" fill="none"/>
</g>
<g clip-path="url(#cr)">
<rect x="20" y="1288" width="3067" height="150" fill="#7e57c2" fill-opacity="0.1"/>
<line x1="20" y1="1288" x2="3087" y2="1288" stroke="#6b6e7a" stroke-width="2.1" stroke-dasharray="10 12"/>
<line x1="20" y1="1362.8" x2="3087" y2="1362.8" stroke="#a3a4ab" stroke-width="2" stroke-dasharray="10 12"/>
<line x1="20" y1="1438" x2="3087" y2="1438" stroke="#6b6e7a" stroke-width="2.1" stroke-dasharray="10 12"/>
<clipPath id="cos"><rect x="20" y="1438" width="3067" height="80"/></clipPath>
<polygon points="20,1438 20,1355.8 35.9,1376.6 61.6,1392.2 87.3,1387.6 113,1380.1 138.7,1386.8 164.4,1386.8 190.1,1390.6 215.8,1384.1 241.5,1385.7 267.2,1382.8 292.9,1384.9 318.7,1384.1 344.4,1360.6 370.1,1339.1 395.8,1367.9 421.5,1364.4 447.2,1362 472.9,1360.6 498.6,1361.2 524.3,1372.5 550,1363.1 575.7,1372 601.4,1445.6 627.1,1453.7 652.8,1440 678.5,1451.6 704.2,1440 729.9,1442.1 755.6,1437.3 781.3,1438.6 807,1442.4 832.8,1430.3 858.5,1434.9 884.2,1437.3 909.9,1439.4 935.6,1440 961.3,1432.7 987,1451 1012.7,1456.4 1038.4,1466.4 1064.1,1485 1089.8,1476.9 1115.5,1461.8 1141.2,1428.9 1166.9,1435.9 1192.6,1442.9 1218.3,1446.2 1244,1449.7 1269.7,1442.9 1295.4,1439.4 1321.2,1435.7 1346.9,1440.8 1372.6,1445.6 1398.3,1429.2 1424,1422.7 1449.7,1420 1475.4,1379.3 1501.1,1354.4 1526.8,1322.6 1552.5,1315 1578.2,1333.7 1603.9,1335.6 1629.6,1341.8 1655.3,1335 1681,1376 1706.7,1396.3 1732.4,1382.8 1758.1,1392.8 1783.8,1373.9 1809.5,1375.5 1835.2,1374.1 1861,1362 1886.7,1380.6 1912.4,1376.8 1938.1,1385.5 1963.8,1394 1989.5,1385.4 2015.2,1367.1 2040.9,1367.4 2066.6,1362.8 2092.3,1335.2 2118,1325.6 2143.7,1355.6 2169.4,1343.9 2195.1,1342 2220.8,1346.7 2246.5,1341.4 2272.2,1315.7 2297.9,1290.3 2323.6,1341.4 2349.3,1353.5 2375.1,1360.3 2400.8,1381 2426.5,1369.6 2452.2,1373 2477.9,1376.7 2503.6,1388.8 2529.3,1384.1 2555,1390.6 2580.7,1393.1 2606.4,1395.3 2632.1,1407 2657.8,1418.2 2657.8,1438" fill="url(#gos)" clip-path="url(#cos)"/>
<polyline points="20,1394.9 61.6,1392.8 113,1390.1 164.4,1388.4 190.1,1388.4 241.5,1385.5 292.9,1382.8 318.7,1382.8 344.4,1380.9 395.8,1379.5 447.2,1376 498.6,1372.8 550,1369.8 575.7,1368.7 627.1,1377.9 678.5,1386.8 704.2,1392.2 729.9,1399.8 781.3,1410.6 832.8,1421.1 884.2,1430.5 935.6,1440.8 961.3,1440 1012.7,1441.3 1038.4,1442.4 1064.1,1445.4 1089.8,1447.5 1115.5,1449.4 1141.2,1448.9 1192.6,1449.4 1244,1450.8 1295.4,1451.3 1321.2,1451.6 1372.6,1450 1398.3,1447.3 1449.7,1438.6 1501.1,1427.3 1526.8,1419.2 1552.5,1410 1603.9,1394.1 1655.3,1379.5 1681,1375.5 1732.4,1367.4 1783.8,1361.5 1809.5,1358.2 1835.2,1357.7 1861,1358.5 1912.4,1367.1 1963.8,1375.1 1989.5,1378.2 2015.2,1380.1 2040.9,1379.5 2066.6,1377 2092.3,1373.9 2118,1369 2143.7,1367.7 2195.1,1363.1 2246.5,1359.4 2272.2,1355.3 2297.9,1348.5 2323.6,1344.2 2349.3,1342.3 2375.1,1341.7 2400.8,1342.3 2426.5,1343 2452.2,1345.7 2477.9,1349.8 2529.3,1354.4 2580.7,1360.9 2606.4,1365.5 2632.1,1372 2657.8,1381.3" fill="none" stroke="#fdd835" stroke-width="2.1" stroke-linejoin="round"/>
<polyline points="20,1355.8 35.9,1376.6 61.6,1392.2 87.3,1387.6 113,1380.1 138.7,1386.8 164.4,1386.8 190.1,1390.6 215.8,1384.1 241.5,1385.7 267.2,1382.8 292.9,1384.9 318.7,1384.1 344.4,1360.6 370.1,1339.1 395.8,1367.9 421.5,1364.4 447.2,1362 472.9,1360.6 498.6,1361.2 524.3,1372.5 550,1363.1 575.7,1372 601.4,1445.6 627.1,1453.7 652.8,1440 678.5,1451.6 704.2,1440 729.9,1442.1 755.6,1437.3 781.3,1438.6 807,1442.4 832.8,1430.3 858.5,1434.9 884.2,1437.3 909.9,1439.4 935.6,1440 961.3,1432.7 987,1451 1012.7,1456.4 1038.4,1466.4 1064.1,1485 1089.8,1476.9 1115.5,1461.8 1141.2,1428.9 1166.9,1435.9 1192.6,1442.9 1218.3,1446.2 1244,1449.7 1269.7,1442.9 1295.4,1439.4 1321.2,1435.7 1346.9,1440.8 1372.6,1445.6 1398.3,1429.2 1424,1422.7 1449.7,1420 1475.4,1379.3 1501.1,1354.4 1526.8,1322.6 1552.5,1315 1578.2,1333.7 1603.9,1335.6 1629.6,1341.8 1655.3,1335 1681,1376 1706.7,1396.3 1732.4,1382.8 1758.1,1392.8 1783.8,1373.9 1809.5,1375.5 1835.2,1374.1 1861,1362 1886.7,1380.6 1912.4,1376.8 1938.1,1385.5 1963.8,1394 1989.5,1385.4 2015.2,1367.1 2040.9,1367.4 2066.6,1362.8 2092.3,1335.2 2118,1325.6 2143.7,1355.6 2169.4,1343.9 2195.1,1342 2220.8,1346.7 2246.5,1341.4 2272.2,1315.7 2297.9,1290.3 2323.6,1341.4 2349.3,1353.5 2375.1,1360.3 2400.8,1381 2426.5,1369.6 2452.2,1373 2477.9,1376.7 2503.6,1388.8 2529.3,1384.1 2555,1390.6 2580.7,1393.1 2606.4,1395.3 2632.1,1407 2657.8,1418.2" fill="none" stroke="#7e57c2" stroke-width="2.1" stroke-linejoin="round"/>
</g>
<g clip-path="url(#cd)">
<rect x="20" y="1553.6" width="2.3" height="19.4" fill="#26a69a"/>
<rect x="24" y="1554.1" width="24" height="19.9" fill="#b2dfdb"/>
<rect x="50" y="1561.1" width="24" height="12.9" fill="#b2dfdb"/>
<rect x="75" y="1564.1" width="24" height="9.9" fill="#b2dfdb"/>
<rect x="101" y="1564.1" width="24" height="9.9" fill="#26a69a"/>
<rect x="127" y="1566" width="24" height="8" fill="#b2dfdb"/>
<rect x="152" y="1567.3" width="24" height="6.7" fill="#b2dfdb"/>
<rect x="178" y="1568.4" width="24" height="5.6" fill="#b2dfdb"/>
<rect x="204" y="1568.4" width="24" height="5.6" fill="#26a69a"/>
<rect x="230" y="1568.1" width="24" height="5.9" fill="#26a69a"/>
<rect x="255" y="1567.3" width="24" height="6.7" fill="#26a69a"/>
<rect x="281" y="1566.3" width="24" height="7.7" fill="#26a69a"/>
<rect x="307" y="1566.3" width="24" height="7.7" fill="#26a69a"/>
<rect x="332" y="1562.2" width="24" height="11.8" fill="#26a69a"/>
<rect x="358" y="1555.2" width="24" height="18.8" fill="#26a69a"/>
<rect x="384" y="1556.3" width="24" height="17.7" fill="#b2dfdb"/>
<rect x="409" y="1557.1" width="24" height="16.9" fill="#b2dfdb"/>
<rect x="435" y="1558.2" width="24" height="15.8" fill="#b2dfdb"/>
<rect x="461" y="1559.2" width="24" height="14.8" fill="#b2dfdb"/>
<rect x="487" y="1560.3" width="24" height="13.7" fill="#b2dfdb"/>
<rect x="512" y="1563" width="24" height="11" fill="#b2dfdb"/>
<rect x="538" y="1564.1" width="24" height="9.9" fill="#b2dfdb"/>
<rect x="564" y="1566" width="24" height="8" fill="#b2dfdb"/>
<rect x="589" y="1572" width="24" height="14.5" fill="#ff5252"/>
<rect x="615" y="1572" width="24" height="29.3" fill="#ff5252"/>
<rect x="641" y="1572" width="24" height="35.5" fill="#ff5252"/>
<rect x="667" y="1572" width="24" height="41.7" fill="#ff5252"/>
<rect x="692" y="1572" width="24" height="41.7" fill="#ffcdd2"/>
<rect x="718" y="1572" width="24" height="39.9" fill="#ffcdd2"/>
<rect x="744" y="1572" width="24" height="34.7" fill="#ffcdd2"/>
<rect x="769" y="1572" width="24" height="30.7" fill="#ffcdd2"/>
<rect x="795" y="1572" width="24" height="25.6" fill="#ffcdd2"/>
<rect x="821" y="1572" width="24" height="19.9" fill="#ffcdd2"/>
<rect x="846" y="1572" width="24" height="15.8" fill="#ffcdd2"/>
<rect x="872" y="1572" width="24" height="11.8" fill="#ffcdd2"/>
<rect x="898" y="1572" width="24" height="8.8" fill="#ffcdd2"/>
<rect x="924" y="1572" width="24" height="5.9" fill="#ffcdd2"/>
<rect x="949" y="1572" width="24" height="1.8" fill="#ffcdd2"/>
<rect x="975" y="1572" width="24" height="2.9" fill="#ff5252"/>
<rect x="1001" y="1572" width="24" height="4.8" fill="#ff5252"/>
<rect x="1026" y="1572" width="24" height="7.7" fill="#ff5252"/>
<rect x="1052" y="1572" width="24" height="16.6" fill="#ff5252"/>
<rect x="1078" y="1572" width="24" height="19.6" fill="#ff5252"/>
<rect x="1104" y="1572" width="24" height="17.7" fill="#ffcdd2"/>
<rect x="1129" y="1572" width="24" height="10.7" fill="#ffcdd2"/>
<rect x="1155" y="1572" width="24" height="6.7" fill="#ffcdd2"/>
<rect x="1181" y="1572" width="24" height="4.8" fill="#ffcdd2"/>
<rect x="1206" y="1572" width="24" height="3.7" fill="#ffcdd2"/>
<rect x="1232" y="1572" width="24" height="2.3" fill="#ffcdd2"/>
<rect x="1258" y="1571.1" width="24" height="2.9" fill="#26a69a"/>
<rect x="1283" y="1568.1" width="24" height="5.9" fill="#26a69a"/>
<rect x="1309" y="1565.2" width="24" height="8.8" fill="#26a69a"/>
<rect x="1335" y="1564.1" width="24" height="9.9" fill="#26a69a"/>
<rect x="1361" y="1564.1" width="24" height="9.9" fill="#26a69a"/>
<rect x="1386" y="1561.1" width="24" height="12.9" fill="#26a69a"/>
<rect x="1412" y="1559.2" width="24" height="14.8" fill="#26a69a"/>
<rect x="1438" y="1557.1" width="24" height="16.9" fill="#26a69a"/>
<rect x="1463" y="1551.1" width="24" height="22.9" fill="#26a69a"/>
<rect x="1489" y="1545.2" width="24" height="28.8" fill="#26a69a"/>
<rect x="1515" y="1536.3" width="24" height="37.7" fill="#26a69a"/>
<rect x="1540" y="1530.1" width="24" height="43.9" fill="#26a69a"/>
<rect x="1566" y="1531.2" width="24" height="42.8" fill="#b2dfdb"/>
<rect x="1592" y="1533.1" width="24" height="40.9" fill="#b2dfdb"/>
<rect x="1618" y="1536" width="24" height="38" fill="#b2dfdb"/>
<rect x="1643" y="1539" width="24" height="35" fill="#b2dfdb"/>
<rect x="1669" y="1548.2" width="24" height="25.8" fill="#b2dfdb"/>
<rect x="1695" y="1559.2" width="24" height="14.8" fill="#b2dfdb"/>
<rect x="1720" y="1564.1" width="24" height="9.9" fill="#b2dfdb"/>
<rect x="1746" y="1569.2" width="24" height="4.8" fill="#b2dfdb"/>
<rect x="1772" y="1570" width="24" height="4" fill="#b2dfdb"/>
<rect x="1798" y="1570" width="24" height="4" fill="#b2dfdb"/>
<rect x="1823" y="1571.1" width="24" height="2.9" fill="#b2dfdb"/>
<rect x="1849" y="1569.2" width="24" height="4.8" fill="#26a69a"/>
<rect x="1875" y="1571.1" width="24" height="2.9" fill="#b2dfdb"/>
<rect x="1900" y="1571.1" width="24" height="2.9" fill="#b2dfdb"/>
<rect x="1926" y="1572" width="24" height="2" fill="#ff5252"/>
<rect x="1952" y="1572" width="24" height="3.9" fill="#ff5252"/>
<rect x="1977" y="1572" width="24" height="3.9" fill="#ff5252"/>
<rect x="2003" y="1572" width="24" height="1.7" fill="#ffcdd2"/>
<rect x="2029" y="1570.9" width="24" height="3.1" fill="#26a69a"/>
<rect x="2055" y="1570" width="24" height="4" fill="#26a69a"/>
<rect x="2080" y="1565" width="24" height="9" fill="#26a69a"/>
<rect x="2106" y="1561" width="24" height="13" fill="#26a69a"/>
<rect x="2132" y="1562.9" width="24" height="11.1" fill="#b2dfdb"/>
<rect x="2157" y="1562" width="24" height="12" fill="#26a69a"/>
<rect x="2183" y="1563.5" width="24" height="10.5" fill="#b2dfdb"/>
<rect x="2209" y="1564.7" width="24" height="9.3" fill="#b2dfdb"/>
<rect x="2235" y="1564.1" width="24" height="9.9" fill="#b2dfdb"/>
<rect x="2260" y="1561" width="24" height="13" fill="#26a69a"/>
<rect x="2286" y="1554.8" width="24" height="19.2" fill="#26a69a"/>
<rect x="2312" y="1560.1" width="24" height="13.9" fill="#b2dfdb"/>
<rect x="2337" y="1562.9" width="24" height="11.1" fill="#b2dfdb"/>
<rect x="2363" y="1568.1" width="24" height="5.9" fill="#b2dfdb"/>
<rect x="2389" y="1572" width="24" height="3.9" fill="#ff5252"/>
<rect x="2414" y="1572" width="24" height="5.7" fill="#ff5252"/>
<rect x="2440" y="1572" width="24" height="7.9" fill="#ff5252"/>
<rect x="2466" y="1572" width="24" height="10.1" fill="#ff5252"/>
<rect x="2492" y="1572" width="24" height="12.2" fill="#ff5252"/>
<rect x="2517" y="1572" width="24" height="12.9" fill="#ff5252"/>
<rect x="2543" y="1572" width="24" height="13.8" fill="#ff5252"/>
<rect x="2569" y="1572" width="24" height="13.8" fill="#ff5252"/>
<rect x="2594" y="1572" width="24" height="13.8" fill="#ffcdd2"/>
<rect x="2620" y="1572" width="24" height="15" fill="#ff5252"/>
<rect x="2646" y="1572" width="24" height="16" fill="#ff5252"/>
<line x1="20" y1="1573" x2="3087" y2="1573" stroke="#a0a3ab" stroke-width="2" stroke-dasharray="10 12"/>
<polyline points="20,1622.4 35.9,1620.5 61.6,1624.3 87.3,1625.3 113,1622.6 138.7,1623.2 164.4,1622.9 190.1,1622.9 215.8,1621 241.5,1619.4 267.2,1617 292.9,1615.1 318.7,1613.2 344.4,1605.9 370.1,1594.3 395.8,1591.9 421.5,1589.2 447.2,1586.5 472.9,1583.5 498.6,1581.6 524.3,1581.9 550,1580.3 575.7,1580.8 601.4,1604.3 627.1,1627 652.8,1642.6 678.5,1657.5 704.2,1666.9 729.9,1674.5 755.6,1678.2 781.3,1680.9 807,1683.1 832.8,1681.5 858.5,1680.4 884.2,1679 909.9,1677.7 935.6,1675.5 961.3,1672.8 987,1673.9 1012.7,1676.1 1038.4,1680.4 1064.1,1693.3 1089.8,1700.9 1115.5,1702.8 1141.2,1697.9 1166.9,1695 1192.6,1693.9 1218.3,1693.1 1244,1692.5 1269.7,1689.6 1295.4,1685.8 1321.2,1681.2 1346.9,1676.9 1372.6,1674.7 1398.3,1669.6 1424,1663.7 1449.7,1658 1475.4,1646.7 1501.1,1633.4 1526.8,1614.3 1552.5,1598.6 1578.2,1588.6 1603.9,1580.8 1629.6,1575.7 1655.3,1569.8 1681,1573 1706.7,1580 1732.4,1582.7 1758.1,1586.5 1783.8,1586.5 1809.5,1586.5 1835.2,1586.2 1861,1584.1 1886.7,1585.1 1912.4,1585.4 1938.1,1587 1963.8,1590.4 1989.5,1591 2015.2,1588.9 2040.9,1587 2066.6,1584.5 2092.3,1577.7 2118,1570.9 2143.7,1569.7 2169.4,1566.6 2195.1,1564.1 2220.8,1563.2 2246.5,1561.6 2272.2,1555.5 2297.9,1545.2 2323.6,1544.9 2349.3,1547.7 2375.1,1551.1 2400.8,1557.9 2426.5,1561.6 2452.2,1565.4 2477.9,1569.1 2503.6,1573.7 2529.3,1576.8 2555,1580.5 2580.7,1583.9 2606.4,1587 2632.1,1591.4 2657.8,1596.6" fill="none" stroke="#2962ff" stroke-width="2.1" stroke-linejoin="round"/>
<polyline points="20,1642.1 35.9,1639.4 61.6,1636.4 87.3,1634 113,1631.8 138.7,1629.9 164.4,1628.6 190.1,1627.5 215.8,1626.2 241.5,1624.8 267.2,1623.2 292.9,1621.6 318.7,1619.9 344.4,1617.3 370.1,1612.7 395.8,1608.6 421.5,1604.6 447.2,1601.1 472.9,1597.6 498.6,1594.3 524.3,1591.9 550,1589.5 575.7,1587.8 601.4,1591.1 627.1,1598.4 652.8,1607.3 678.5,1617.3 704.2,1627 729.9,1636.7 755.6,1644.8 781.3,1652.1 807,1658.3 832.8,1662.9 858.5,1666.1 884.2,1668.5 909.9,1670.4 935.6,1671.5 961.3,1672 987,1672.3 1012.7,1673.1 1038.4,1674.5 1064.1,1678.2 1089.8,1682.8 1115.5,1686.9 1141.2,1689 1166.9,1690.4 1192.6,1691.2 1218.3,1691.5 1244,1691.7 1269.7,1691.2 1295.4,1690.1 1321.2,1688.2 1346.9,1685.8 1372.6,1683.6 1398.3,1680.7 1424,1677.2 1449.7,1673.4 1475.4,1668 1501.1,1661.5 1526.8,1651.5 1552.5,1641 1578.2,1630.5 1603.9,1620.5 1629.6,1611.6 1655.3,1603.2 1681,1597 1706.7,1593.5 1732.4,1591.3 1758.1,1590.5 1783.8,1589.7 1809.5,1589.2 1835.2,1588.6 1861,1587.6 1886.7,1587 1912.4,1586.8 1938.1,1586.8 1963.8,1587.3 1989.5,1588.3 2015.2,1588.6 2040.9,1588 2066.6,1587.3 2092.3,1585.2 2118,1582.4 2143.7,1579.9 2169.4,1577.1 2195.1,1574.6 2220.8,1572.5 2246.5,1570.3 2272.2,1567.2 2297.9,1562.9 2323.6,1559.5 2349.3,1557 2375.1,1555.8 2400.8,1556.4 2426.5,1557.3 2452.2,1558.9 2477.9,1561 2503.6,1563.5 2529.3,1566.3 2555,1569.1 2580.7,1571.9 2606.4,1575 2632.1,1578.4 2657.8,1581.8" fill="none" stroke="#f23645" stroke-width="2.1" stroke-linejoin="round"/>
</g>
<rect x="19" y="53" width="3212" height="2" fill="#f1f1f2"/>
<rect x="19" y="1777" width="3212" height="2" fill="#f1f1f2"/>
<rect x="19" y="53" width="2" height="1726" fill="#f1f1f2"/>
<rect x="3229" y="53" width="2" height="1726" fill="#f1f1f2"/>
<rect x="3086" y="55" width="2" height="1723" fill="#f6f6f7"/>
<rect x="21" y="1722" width="3209" height="2" fill="#f4f4f5"/>
<rect x="21" y="1262" width="3208" height="2" fill="#e0e3eb"/>
<rect x="21" y="1507" width="3208" height="2" fill="#e0e3eb"/>
<g filter="url(#nf)">
<text x="1526.6" y="879.8" font-size="23.8" fill="#fff" text-anchor="middle" font-weight="normal" textLength="41.4" lengthAdjust="spacing" stroke="#fff" stroke-width="0.4">Buy</text>
<text x="2631.3" y="597.7" font-size="23.8" fill="#fff" text-anchor="middle" font-weight="normal" textLength="39.6" lengthAdjust="spacing" stroke="#fff" stroke-width="0.4">Sell</text>
<text x="3105.2" y="279.6" font-size="24" fill="#131722" text-anchor="start" font-weight="normal" textLength="80" lengthAdjust="spacing" stroke="#131722" stroke-width="0.4">0.3600</text>
<text x="3105.2" y="458.6" font-size="24" fill="#131722" text-anchor="start" font-weight="normal" textLength="80" lengthAdjust="spacing" stroke="#131722" stroke-width="0.4">0.3000</text>
<text x="3105.2" y="526.3" font-size="24" fill="#131722" text-anchor="start" font-weight="normal" textLength="80" lengthAdjust="spacing" stroke="#131722" stroke-width="0.4">0.2800</text>
<text x="3105.2" y="599.1" font-size="24" fill="#131722" text-anchor="start" font-weight="normal" textLength="80" lengthAdjust="spacing" stroke="#131722" stroke-width="0.4">0.2600</text>
<text x="3105.2" y="677.7" font-size="24" fill="#131722" text-anchor="start" font-weight="normal" textLength="80" lengthAdjust="spacing" stroke="#131722" stroke-width="0.4">0.2400</text>
<text x="3105.2" y="763.1" font-size="24" fill="#131722" text-anchor="start" font-weight="normal" textLength="80" lengthAdjust="spacing" stroke="#131722" stroke-width="0.4">0.2200</text>
<text x="3105.2" y="987.8" font-size="24" fill="#131722" text-anchor="start" font-weight="normal" textLength="80" lengthAdjust="spacing" stroke="#131722" stroke-width="0.4">0.1750</text>
<text x="3105.2" y="1075.8" font-size="24" fill="#131722" text-anchor="start" font-weight="normal" textLength="80" lengthAdjust="spacing" stroke="#131722" stroke-width="0.4">0.1600</text>
<text x="3105.2" y="1201" font-size="24" fill="#131722" text-anchor="start" font-weight="normal" textLength="80" lengthAdjust="spacing" stroke="#131722" stroke-width="0.4">0.1410</text>
<text x="3105.2" y="1262" font-size="24" fill="#131722" text-anchor="start" font-weight="normal" textLength="80" lengthAdjust="spacing" stroke="#131722" stroke-width="0.4">0.1325</text>
<text x="3105.2" y="1334.2" font-size="24" fill="#131722" text-anchor="start" font-weight="normal" textLength="65.2" lengthAdjust="spacing" stroke="#131722" stroke-width="0.4">60.00</text>
<text x="3105.2" y="1408.8" font-size="24" fill="#131722" text-anchor="start" font-weight="normal" textLength="65.2" lengthAdjust="spacing" stroke="#131722" stroke-width="0.4">40.00</text>
<text x="3105.2" y="1483.2" font-size="24" fill="#131722" text-anchor="start" font-weight="normal" textLength="65.2" lengthAdjust="spacing" stroke="#131722" stroke-width="0.4">20.00</text>
<text x="3104.8" y="1667.5" font-size="24" fill="#131722" text-anchor="start" font-weight="normal" textLength="96.2" lengthAdjust="spacing" stroke="#131722" stroke-width="0.4">−0.0200</text>
</g>
<rect x="3094.5" y="62.5" width="127.5" height="51.5" rx="9" fill="#fff" stroke="#ebecee" stroke-width="1.6"/>
<path d="M3088 130H3194a4 4 0 0 1 4 4V160a4 4 0 0 1 -4 4H3088Z" fill="#000"/>
<path d="M3020 164.5H3086V197.5H3020a4 4 0 0 1 -4 -4V168.5a4 4 0 0 1 4 -4Z" fill="#e3effd"/>
<path d="M3088 164.5H3194a4 4 0 0 1 4 4V193.5a4 4 0 0 1 -4 4H3088Z" fill="#e3effd"/>
<path d="M3088 364.3H3194a4 4 0 0 1 4 4V393.8a4 4 0 0 1 -4 4H3088Z" fill="#000"/>
<path d="M3088 557.8H3194a4 4 0 0 1 4 4V587.6a4 4 0 0 1 -4 4H3088Z" fill="#000"/>
<path d="M3088 622H3164a4 4 0 0 1 4 4V652a4 4 0 0 1 -4 4H3088Z" fill="#ff5252"/>
<path d="M3088 659.5H3194a4 4 0 0 1 4 4V689.2a4 4 0 0 1 -4 4H3088Z" fill="#ff8000"/>
<path d="M3088 693.4H3194a4 4 0 0 1 4 4V723a4 4 0 0 1 -4 4H3088Z" fill="#000"/>
<path d="M3088 727.2H3164a4 4 0 0 1 4 4V757.4a4 4 0 0 1 -4 4H3088Z" fill="#4caf50"/>
<path d="M3088 761.4H3164a4 4 0 0 1 4 4V791a4 4 0 0 1 -4 4H3088Z" fill="#2962ff"/>
<path d="M3088 795H3216a4 4 0 0 1 4 4V852.7a4 4 0 0 1 -4 4H3088Z" fill="#000"/>
<path d="M3088 857.6H3194a4 4 0 0 1 4 4V887.2a4 4 0 0 1 -4 4H3088Z" fill="#000"/>
<path d="M3088 891.4H3194a4 4 0 0 1 4 4V921a4 4 0 0 1 -4 4H3088Z" fill="#000"/>
<path d="M3088 925H3194a4 4 0 0 1 4 4V954.6a4 4 0 0 1 -4 4H3088Z" fill="#d840f5"/>
<path d="M3088 1093H3194a4 4 0 0 1 4 4V1122.7a4 4 0 0 1 -4 4H3088Z" fill="#9e9e9e"/>
<path d="M3028 1127.5H3086V1161H3028a4 4 0 0 1 -4 -4V1131.5a4 4 0 0 1 4 -4Z" fill="#e3effd"/>
<path d="M3088 1127.5H3194a4 4 0 0 1 4 4V1157a4 4 0 0 1 -4 4H3088Z" fill="#e3effd"/>
<path d="M3088 1364H3178a4 4 0 0 1 4 4V1393.8a4 4 0 0 1 -4 4H3088Z" fill="#fdd835"/>
<path d="M3088 1401.2H3178a4 4 0 0 1 4 4V1430.8a4 4 0 0 1 -4 4H3088Z" fill="#7e57c2"/>
<path d="M3088 1536H3208a4 4 0 0 1 4 4V1566a4 4 0 0 1 -4 4H3088Z" fill="#f23645"/>
<path d="M3088 1570H3208a4 4 0 0 1 4 4V1600a4 4 0 0 1 -4 4H3088Z" fill="#ff5252"/>
<path d="M3088 1604H3208a4 4 0 0 1 4 4V1633.8a4 4 0 0 1 -4 4H3088Z" fill="#2962ff"/>
<path d="M24 1822.4H47.8V1851.8H35.9V1834.3H24Z" fill="#111"/>
<circle cx="57.9" cy="1828.3" r="6" fill="#111"/>
<path d="M68.6 1822.4H83.9L72.4 1851.8H57.9Z" fill="#111"/>
<g filter="url(#nf)">
<text x="3113" y="95.8" font-size="24" fill="#131722" text-anchor="start" font-weight="normal" textLength="63" lengthAdjust="spacing" stroke="#131722" stroke-width="0.4">USDT</text>
<text x="3105.2" y="154.6" font-size="24" fill="#fff" text-anchor="start" font-weight="normal" textLength="80" lengthAdjust="spacing" stroke="#fff" stroke-width="0.4">0.3987</text>
<text x="3026.4" y="188" font-size="24" fill="#131722" text-anchor="start" font-weight="normal" textLength="50.8" lengthAdjust="spacing" stroke="#131722" stroke-width="0.4">High</text>
<text x="3105.2" y="188.6" font-size="24" fill="#131722" text-anchor="start" font-weight="normal" textLength="80" lengthAdjust="spacing" stroke="#131722" stroke-width="0.4">0.3949</text>
<text x="3105.2" y="388.7" font-size="24" fill="#fff" text-anchor="start" font-weight="normal" textLength="80" lengthAdjust="spacing" stroke="#fff" stroke-width="0.4">0.3220</text>
<text x="3105.2" y="582.3" font-size="24" fill="#fff" text-anchor="start" font-weight="normal" textLength="80" lengthAdjust="spacing" stroke="#fff" stroke-width="0.4">0.2643</text>
<text x="3105.2" y="646.6" font-size="24" fill="#fff" text-anchor="start" font-weight="normal" textLength="50.2" lengthAdjust="spacing" stroke="#fff" stroke-width="0.4">0.25</text>
<text x="3105.2" y="684" font-size="24" fill="#fff" text-anchor="start" font-weight="normal" textLength="80" lengthAdjust="spacing" stroke="#fff" stroke-width="0.4">0.2364</text>
<text x="3105.2" y="717.8" font-size="24" fill="#fff" text-anchor="start" font-weight="normal" textLength="80" lengthAdjust="spacing" stroke="#fff" stroke-width="0.4">0.2295</text>
<text x="3105.2" y="751.9" font-size="24" fill="#fff" text-anchor="start" font-weight="normal" textLength="50.2" lengthAdjust="spacing" stroke="#fff" stroke-width="0.4">0.22</text>
<text x="3105.2" y="785.8" font-size="24" fill="#fff" text-anchor="start" font-weight="normal" textLength="50.2" lengthAdjust="spacing" stroke="#fff" stroke-width="0.4">0.21</text>
<text x="3105.2" y="819.2" font-size="24" fill="#fff" text-anchor="start" font-weight="normal" textLength="80" lengthAdjust="spacing" stroke="#fff" stroke-width="0.4">0.2076</text>
<text x="3105.2" y="847.6" font-size="24" fill="#c8c8c8" text-anchor="start" font-weight="normal" textLength="101" lengthAdjust="spacing" stroke="#c8c8c8" stroke-width="0.4">18:35:27</text>
<text x="3105.2" y="882" font-size="24" fill="#fff" text-anchor="start" font-weight="normal" textLength="80" lengthAdjust="spacing" stroke="#fff" stroke-width="0.4">0.1996</text>
<text x="3105.2" y="915.8" font-size="24" fill="#fff" text-anchor="start" font-weight="normal" textLength="80" lengthAdjust="spacing" stroke="#fff" stroke-width="0.4">0.1919</text>
<text x="3105.2" y="949.4" font-size="24" fill="#fff" text-anchor="start" font-weight="normal" textLength="80" lengthAdjust="spacing" stroke="#fff" stroke-width="0.4">0.1842</text>
<text x="3105.2" y="1117.4" font-size="24" fill="#131722" text-anchor="start" font-weight="normal" textLength="80" lengthAdjust="spacing" stroke="#131722" stroke-width="0.4">0.1533</text>
<text x="3033.7" y="1151" font-size="24" fill="#131722" text-anchor="start" font-weight="normal" textLength="43" lengthAdjust="spacing" stroke="#131722" stroke-width="0.4">Low</text>
<text x="3105.2" y="1151.8" font-size="24" fill="#131722" text-anchor="start" font-weight="normal" textLength="80" lengthAdjust="spacing" stroke="#131722" stroke-width="0.4">0.1533</text>
<text x="3105.2" y="1388.5" font-size="24" fill="#000" text-anchor="start" font-weight="normal" textLength="65.2" lengthAdjust="spacing" stroke="#000" stroke-width="0.4">45.27</text>
<text x="3105.2" y="1425.6" font-size="24" fill="#fff" text-anchor="start" font-weight="normal" textLength="65.2" lengthAdjust="spacing" stroke="#fff" stroke-width="0.4">35.35</text>
<text x="3104.8" y="1560.6" font-size="24" fill="#fff" text-anchor="start" font-weight="normal" textLength="96.2" lengthAdjust="spacing" stroke="#fff" stroke-width="0.4">−0.0022</text>
<text x="3104.8" y="1594.6" font-size="24" fill="#fff" text-anchor="start" font-weight="normal" textLength="96.2" lengthAdjust="spacing" stroke="#fff" stroke-width="0.4">−0.0033</text>
<text x="3104.8" y="1628.5" font-size="24" fill="#fff" text-anchor="start" font-weight="normal" textLength="96.2" lengthAdjust="spacing" stroke="#fff" stroke-width="0.4">−0.0055</text>
<text x="61.6" y="1760.2" font-size="24" fill="#131722" text-anchor="middle" font-weight="bold" textLength="46.3" lengthAdjust="spacing" stroke="#131722" stroke-width="0.4">Sep</text>
<text x="190.1" y="1760.2" font-size="24" fill="#131722" text-anchor="middle" font-weight="normal" stroke="#131722" stroke-width="0.4">6</text>
<text x="318.7" y="1760.2" font-size="24" fill="#131722" text-anchor="middle" font-weight="normal" textLength="26.4" lengthAdjust="spacing" stroke="#131722" stroke-width="0.4">11</text>
<text x="447.2" y="1760.2" font-size="24" fill="#131722" text-anchor="middle" font-weight="normal" textLength="28.4" lengthAdjust="spacing" stroke="#131722" stroke-width="0.4">16</text>
<text x="575.7" y="1760.2" font-size="24" fill="#131722" text-anchor="middle" font-weight="normal" textLength="28.4" lengthAdjust="spacing" stroke="#131722" stroke-width="0.4">21</text>
<text x="704.2" y="1760.2" font-size="24" fill="#131722" text-anchor="middle" font-weight="normal" textLength="28.4" lengthAdjust="spacing" stroke="#131722" stroke-width="0.4">26</text>
<text x="832.8" y="1760.2" font-size="24" fill="#131722" text-anchor="middle" font-weight="bold" textLength="42.4" lengthAdjust="spacing" stroke="#131722" stroke-width="0.4">Oct</text>
<text x="961.3" y="1760.2" font-size="24" fill="#131722" text-anchor="middle" font-weight="normal" stroke="#131722" stroke-width="0.4">6</text>
<text x="1089.8" y="1760.2" font-size="24" fill="#131722" text-anchor="middle" font-weight="normal" textLength="26.4" lengthAdjust="spacing" stroke="#131722" stroke-width="0.4">11</text>
<text x="1218.3" y="1760.2" font-size="24" fill="#131722" text-anchor="middle" font-weight="normal" textLength="28.4" lengthAdjust="spacing" stroke="#131722" stroke-width="0.4">16</text>
<text x="1346.9" y="1760.2" font-size="24" fill="#131722" text-anchor="middle" font-weight="normal" textLength="28.4" lengthAdjust="spacing" stroke="#131722" stroke-width="0.4">21</text>
<text x="1475.4" y="1760.2" font-size="24" fill="#131722" text-anchor="middle" font-weight="normal" textLength="28.4" lengthAdjust="spacing" stroke="#131722" stroke-width="0.4">26</text>
<text x="1629.6" y="1760.2" font-size="24" fill="#131722" text-anchor="middle" font-weight="bold" textLength="45.6" lengthAdjust="spacing" stroke="#131722" stroke-width="0.4">Nov</text>
<text x="1758.1" y="1760.2" font-size="24" fill="#131722" text-anchor="middle" font-weight="normal" stroke="#131722" stroke-width="0.4">6</text>
<text x="1886.7" y="1760.2" font-size="24" fill="#131722" text-anchor="middle" font-weight="normal" textLength="26.4" lengthAdjust="spacing" stroke="#131722" stroke-width="0.4">11</text>
<text x="2015.2" y="1760.2" font-size="24" fill="#131722" text-anchor="middle" font-weight="normal" textLength="28.4" lengthAdjust="spacing" stroke="#131722" stroke-width="0.4">16</text>
<text x="2143.7" y="1760.2" font-size="24" fill="#131722" text-anchor="middle" font-weight="normal" textLength="28.4" lengthAdjust="spacing" stroke="#131722" stroke-width="0.4">21</text>
<text x="2272.2" y="1760.2" font-size="24" fill="#131722" text-anchor="middle" font-weight="normal" textLength="28.4" lengthAdjust="spacing" stroke="#131722" stroke-width="0.4">26</text>
<text x="2400.8" y="1760.2" font-size="24" fill="#131722" text-anchor="middle" font-weight="bold" textLength="46" lengthAdjust="spacing" stroke="#131722" stroke-width="0.4">Dec</text>
<text x="2529.3" y="1760.2" font-size="24" fill="#131722" text-anchor="middle" font-weight="normal" stroke="#131722" stroke-width="0.4">6</text>
<text x="2657.8" y="1760.2" font-size="24" fill="#131722" text-anchor="middle" font-weight="normal" textLength="26.4" lengthAdjust="spacing" stroke="#131722" stroke-width="0.4">11</text>
<text x="2786.3" y="1760.2" font-size="24" fill="#131722" text-anchor="middle" font-weight="normal" textLength="28.4" lengthAdjust="spacing" stroke="#131722" stroke-width="0.4">16</text>
<text x="2914.9" y="1760.2" font-size="24" fill="#131722" text-anchor="middle" font-weight="normal" textLength="28.4" lengthAdjust="spacing" stroke="#131722" stroke-width="0.4">21</text>
<text x="3043.4" y="1760.2" font-size="24" fill="#131722" text-anchor="middle" font-weight="normal" textLength="28.4" lengthAdjust="spacing" stroke="#131722" stroke-width="0.4">26</text>
<text x="19.9" y="39.8" font-size="23.6" fill="#16181f" text-anchor="start" font-weight="normal" textLength="875.4" lengthAdjust="spacing" stroke="#16181f" stroke-width="0.4">CryptoFXStreet created with TradingView.com, Dec 11, 2025 10:54 UTC+5:30</text>
<text x="36.1" y="94" font-size="23.6" fill="#131722" text-anchor="start" font-weight="normal" textLength="321.6" lengthAdjust="spacing" stroke="#131722" stroke-width="0.4">Pi Network/Tether · 1D · OKX</text>
<text x="373.3" y="94" font-size="23.6" fill="#131722" text-anchor="start" font-weight="normal" textLength="91.7" lengthAdjust="spacing" stroke="#131722" stroke-width="0.4">O0.2137</text>
<text x="481.6" y="94" font-size="23.6" fill="#131722" text-anchor="start" font-weight="normal" textLength="91.6" lengthAdjust="spacing" stroke="#131722" stroke-width="0.4">H0.2164</text>
<text x="589.8" y="94" font-size="23.6" fill="#131722" text-anchor="start" font-weight="normal" textLength="91.6" lengthAdjust="spacing" stroke="#131722" stroke-width="0.4">L0.2036</text>
<text x="697.2" y="94" font-size="23.6" fill="#131722" text-anchor="start" font-weight="normal" textLength="93.1" lengthAdjust="spacing" stroke="#131722" stroke-width="0.4">C0.2076</text>
<text x="806.5" y="94" font-size="23.6" fill="#131722" text-anchor="start" font-weight="normal" textLength="205.6" lengthAdjust="spacing" stroke="#131722" stroke-width="0.4">−0.0062 (−2.90%)</text>
<text x="97.6" y="1851.8" font-size="41" fill="#111" text-anchor="start" font-weight="bold" textLength="242.5" lengthAdjust="spacing" stroke="#111" stroke-width="0.7">TradingView</text>
</g>
</svg>
</body></html>
